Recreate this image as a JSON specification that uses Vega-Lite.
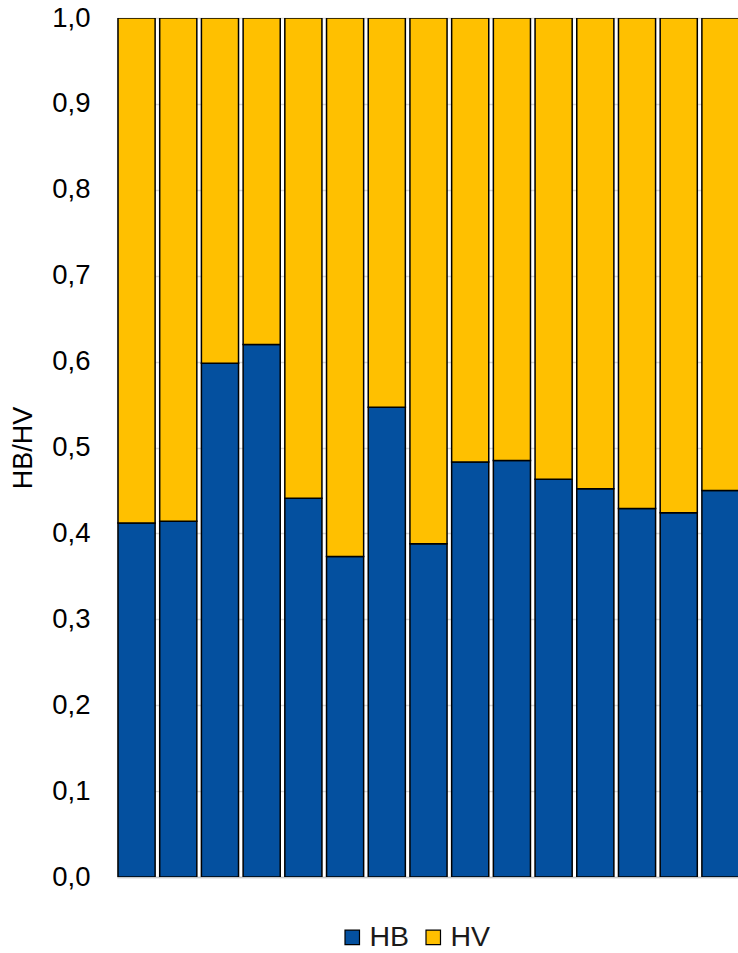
{
  "$schema": "https://vega.github.io/schema/vega-lite/v6.json",
  "autosize": "none",
  "padding": {"left": 117, "top": 18, "right": 0, "bottom": 76},
  "width": 621,
  "height": 859,
  "background": "white",
  "data": {"values": [
    {"cat": "1", "series": "HB", "value": 0.412}, {"cat": "1", "series": "HV", "value": 0.588},
    {"cat": "2", "series": "HB", "value": 0.414}, {"cat": "2", "series": "HV", "value": 0.586},
    {"cat": "3", "series": "HB", "value": 0.598}, {"cat": "3", "series": "HV", "value": 0.402},
    {"cat": "4", "series": "HB", "value": 0.620}, {"cat": "4", "series": "HV", "value": 0.380},
    {"cat": "5", "series": "HB", "value": 0.441}, {"cat": "5", "series": "HV", "value": 0.559},
    {"cat": "6", "series": "HB", "value": 0.373}, {"cat": "6", "series": "HV", "value": 0.627},
    {"cat": "7", "series": "HB", "value": 0.547}, {"cat": "7", "series": "HV", "value": 0.453},
    {"cat": "8", "series": "HB", "value": 0.388}, {"cat": "8", "series": "HV", "value": 0.612},
    {"cat": "9", "series": "HB", "value": 0.483}, {"cat": "9", "series": "HV", "value": 0.517},
    {"cat": "10", "series": "HB", "value": 0.485}, {"cat": "10", "series": "HV", "value": 0.515},
    {"cat": "11", "series": "HB", "value": 0.463}, {"cat": "11", "series": "HV", "value": 0.537},
    {"cat": "12", "series": "HB", "value": 0.452}, {"cat": "12", "series": "HV", "value": 0.548},
    {"cat": "13", "series": "HB", "value": 0.429}, {"cat": "13", "series": "HV", "value": 0.571},
    {"cat": "14", "series": "HB", "value": 0.424}, {"cat": "14", "series": "HV", "value": 0.576},
    {"cat": "15", "series": "HB", "value": 0.450}, {"cat": "15", "series": "HV", "value": 0.550}
  ]},
  "mark": {"type": "bar", "stroke": "black", "strokeWidth": 1.5, "clip": true},
  "encoding": {
    "x": {
      "field": "cat", "type": "ordinal", "sort": null,
      "scale": {"range": [0, 623], "paddingInner": 0.11, "paddingOuter": 0.024},
      "axis": {"labels": false, "ticks": false, "title": null, "domainColor": "#c8c8c8", "domainWidth": 1.5, "grid": false}
    },
    "y": {
      "field": "value", "type": "quantitative", "stack": "zero",
      "scale": {"domain": [0, 1], "nice": false},
      "axis": {
        "values": [0, 0.1, 0.2, 0.3, 0.4, 0.5, 0.6, 0.7, 0.8, 0.9, 1.0],
        "labelExpr": "replace(format(datum.value, '.1f'), '.', ',')",
        "title": "HB/HV",
        "titleFont": "Liberation Sans", "titleFontSize": 27, "titleFontWeight": "normal", "titleColor": "black",
        "titlePadding": 14,
        "labelFont": "Liberation Sans", "labelFontSize": 27.5, "labelColor": "black",
        "labelPadding": 27, "ticks": false,
        "domainColor": "#d9d9d9", "domainWidth": 1,
        "grid": true, "gridColor": "#d9d9d9", "gridWidth": 1.5
      }
    },
    "color": {
      "field": "series", "type": "nominal",
      "scale": {"domain": ["HB", "HV"], "range": ["#04509F", "#FFC000"]},
      "legend": {
        "title": null, "orient": "none", "direction": "horizontal",
        "legendX": 221, "legendY": 905,
        "symbolType": "square", "symbolSize": 210, "symbolStrokeColor": "black", "symbolStrokeWidth": 1.2,
        "symbolOpacity": 1,
        "labelFont": "Liberation Sans", "labelFontSize": 28.5, "labelColor": "#1a1a1a",
        "labelOffset": 3, "columnPadding": 9
      }
    },
    "order": {"field": "series", "sort": "ascending"}
  },
  "config": {"view": {"stroke": null}}
}
